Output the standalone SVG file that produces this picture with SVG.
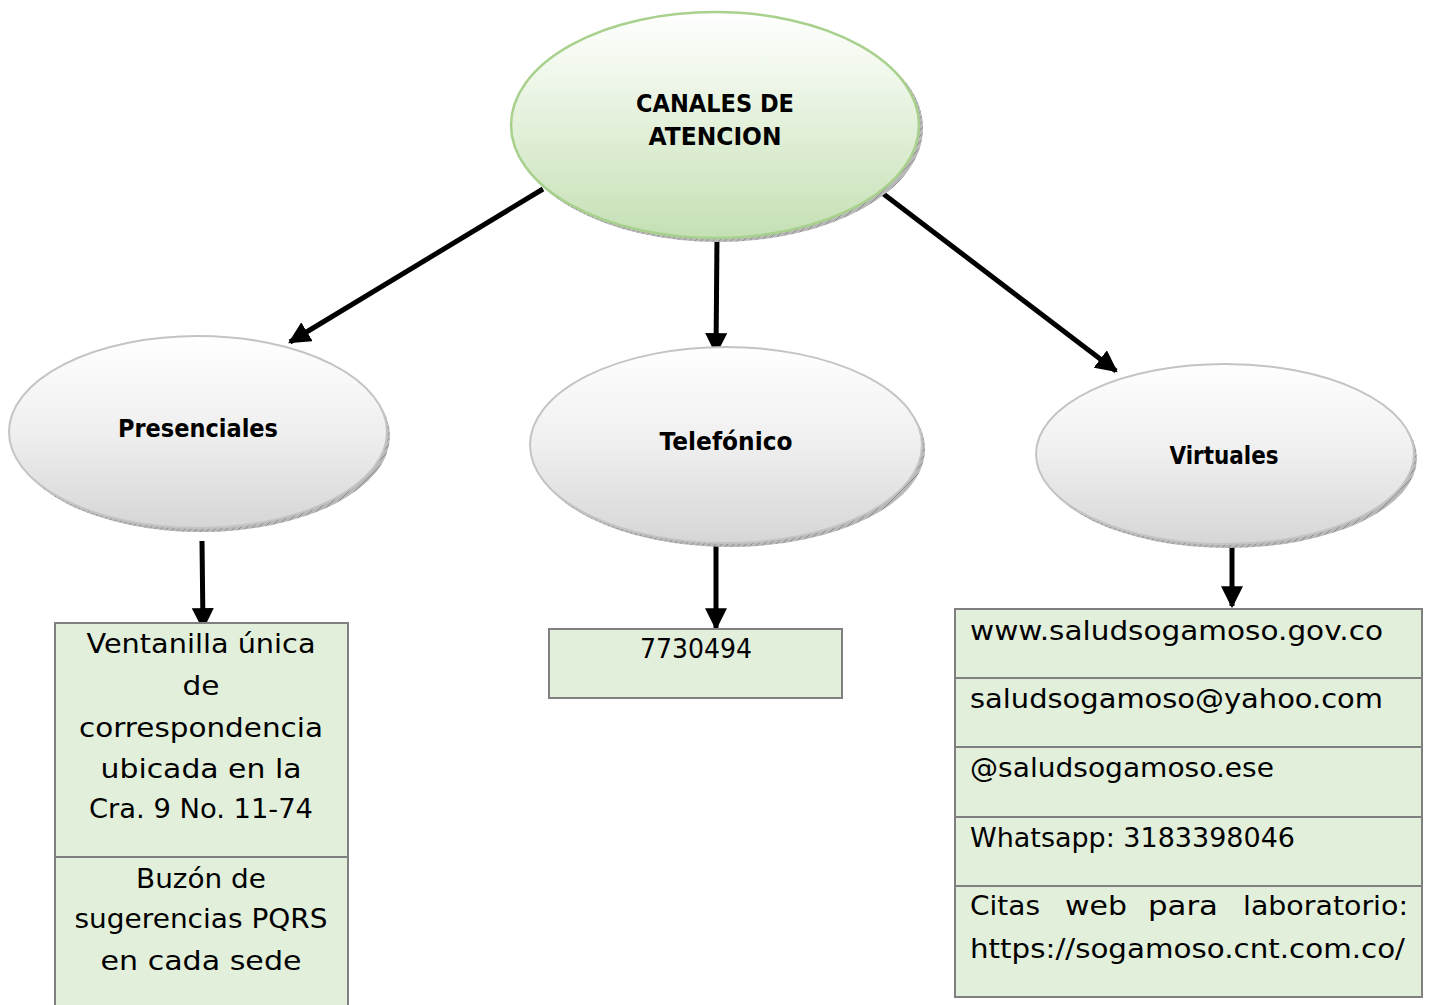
<svg xmlns="http://www.w3.org/2000/svg" width="1430" height="1005" viewBox="0 0 1430 1005">
<defs>
<linearGradient id="gGreen" x1="0" y1="0" x2="0" y2="1">
<stop offset="0" stop-color="#ffffff"/>
<stop offset="0.45" stop-color="#e6f2de"/>
<stop offset="1" stop-color="#c5e0b4"/>
</linearGradient>
<linearGradient id="gGray" x1="0" y1="0" x2="0" y2="1">
<stop offset="0" stop-color="#ffffff"/>
<stop offset="0.5" stop-color="#efefef"/>
<stop offset="1" stop-color="#d6d6d6"/>
</linearGradient>
<pattern id="hatch" width="6" height="6" patternUnits="userSpaceOnUse">
<rect width="6" height="6" fill="#b8b8b8"/>
<path d="M0,6 L6,0" stroke="#8c8c8c" stroke-width="1"/>
</pattern>
<marker id="arr" viewBox="0 0 10 10" refX="9" refY="5" markerWidth="22" markerHeight="22" markerUnits="userSpaceOnUse" orient="auto">
<path d="M0,0 L10,5 L0,10 Z" fill="#000"/>
</marker>
<style>
.title{font-family:"DejaVu Sans","Liberation Sans",sans-serif;font-weight:bold;font-size:25px;fill:#000}
.txt{font-family:"DejaVu Sans","Liberation Sans",sans-serif;font-size:27px;fill:#000}
.shadow{fill:url(#hatch)}
.gray{fill:url(#gGray);stroke:#c4c4c4;stroke-width:2}
.green{fill:url(#gGreen);stroke:#a9d18e;stroke-width:2.5}
.box{fill:#e2efda;stroke:#808080;stroke-width:2}
.div{stroke:#808080;stroke-width:2}
.con{stroke:#000;stroke-width:5;fill:none;marker-end:url(#arr)}
</style>
</defs>
<rect width="1430" height="1005" fill="#ffffff"/>

<g id="connectors">
<line class="con" x1="543" y1="189" x2="290" y2="342"/>
<line class="con" x1="717" y1="237" x2="716" y2="353"/>
<line class="con" x1="877" y1="189" x2="1116" y2="371"/>
<line class="con" x1="202" y1="541" x2="203" y2="628"/>
<line class="con" x1="716" y1="541" x2="716" y2="628"/>
<line class="con" x1="1232" y1="541" x2="1232" y2="606"/>
</g>

<g id="node-canales">
<ellipse class="shadow" cx="718" cy="128" rx="205" ry="114"/>
<ellipse class="green" cx="715" cy="125" rx="204" ry="113"/>
<text class="title" x="715" y="112" text-anchor="middle" textLength="158" lengthAdjust="spacingAndGlyphs">CANALES DE</text>
<text class="title" x="715" y="145" text-anchor="middle" textLength="133" lengthAdjust="spacingAndGlyphs">ATENCION</text>
</g>

<g id="node-presenciales">
<ellipse class="shadow" cx="201" cy="436" rx="189" ry="96"/>
<ellipse class="gray" cx="198" cy="432" rx="189" ry="96"/>
<text class="title" x="198" y="437" text-anchor="middle" textLength="160" lengthAdjust="spacingAndGlyphs">Presenciales</text>
</g>

<g id="node-telefonico">
<ellipse class="shadow" cx="729" cy="449" rx="196" ry="98"/>
<ellipse class="gray" cx="726" cy="445" rx="196" ry="98"/>
<text class="title" x="726" y="450" text-anchor="middle" textLength="133" lengthAdjust="spacingAndGlyphs">Telefónico</text>
</g>

<g id="node-virtuales">
<ellipse class="shadow" cx="1228" cy="458" rx="189" ry="90"/>
<ellipse class="gray" cx="1225" cy="454" rx="189" ry="90"/>
<text class="title" x="1224" y="464" text-anchor="middle" textLength="109" lengthAdjust="spacingAndGlyphs">Virtuales</text>
</g>

<g id="node-presenciales-list">
<rect class="box" x="55" y="623" width="293" height="390"/>
<line class="div" x1="55" y1="857" x2="348" y2="857"/>
<text class="txt" x="201" y="653" text-anchor="middle" textLength="229" lengthAdjust="spacingAndGlyphs">Ventanilla única</text>
<text class="txt" x="201" y="695" text-anchor="middle" textLength="37" lengthAdjust="spacingAndGlyphs">de</text>
<text class="txt" x="201" y="737" text-anchor="middle" textLength="244" lengthAdjust="spacingAndGlyphs">correspondencia</text>
<text class="txt" x="201" y="778" text-anchor="middle" textLength="201" lengthAdjust="spacingAndGlyphs">ubicada en la</text>
<text class="txt" x="201" y="818" text-anchor="middle" textLength="224" lengthAdjust="spacingAndGlyphs">Cra. 9 No. 11-74</text>
<text class="txt" x="201" y="888" text-anchor="middle" textLength="130" lengthAdjust="spacingAndGlyphs">Buzón de</text>
<text class="txt" x="201" y="928" text-anchor="middle" textLength="253" lengthAdjust="spacingAndGlyphs">sugerencias PQRS</text>
<text class="txt" x="201" y="970" text-anchor="middle" textLength="201" lengthAdjust="spacingAndGlyphs">en cada sede</text>
</g>

<g id="node-telefono">
<rect class="box" x="549" y="629" width="293" height="69"/>
<text class="txt" x="640" y="658" textLength="112" lengthAdjust="spacingAndGlyphs">7730494</text>
</g>

<g id="node-virtuales-list">
<rect class="box" x="955" y="609" width="467" height="388"/>
<line class="div" x1="955" y1="678" x2="1422" y2="678"/>
<line class="div" x1="955" y1="747" x2="1422" y2="747"/>
<line class="div" x1="955" y1="817" x2="1422" y2="817"/>
<line class="div" x1="955" y1="886" x2="1422" y2="886"/>
<text class="txt" x="970" y="640" textLength="413" lengthAdjust="spacingAndGlyphs">www.saludsogamoso.gov.co</text>
<text class="txt" x="970" y="708" textLength="413" lengthAdjust="spacingAndGlyphs">saludsogamoso@yahoo.com</text>
<text class="txt" x="970" y="777" textLength="304" lengthAdjust="spacingAndGlyphs">@saludsogamoso.ese</text>
<text class="txt" x="970" y="847" textLength="325" lengthAdjust="spacingAndGlyphs">Whatsapp: 3183398046</text>
<text class="txt" y="915"><tspan x="970" textLength="70" lengthAdjust="spacingAndGlyphs">Citas</tspan><tspan x="1065" textLength="62" lengthAdjust="spacingAndGlyphs">web</tspan><tspan x="1148" textLength="70" lengthAdjust="spacingAndGlyphs">para</tspan><tspan x="1243" textLength="165" lengthAdjust="spacingAndGlyphs">laboratorio:</tspan></text>
<text class="txt" x="970" y="958" textLength="435" lengthAdjust="spacingAndGlyphs">https://sogamoso.cnt.com.co/</text>
</g>
</svg>
